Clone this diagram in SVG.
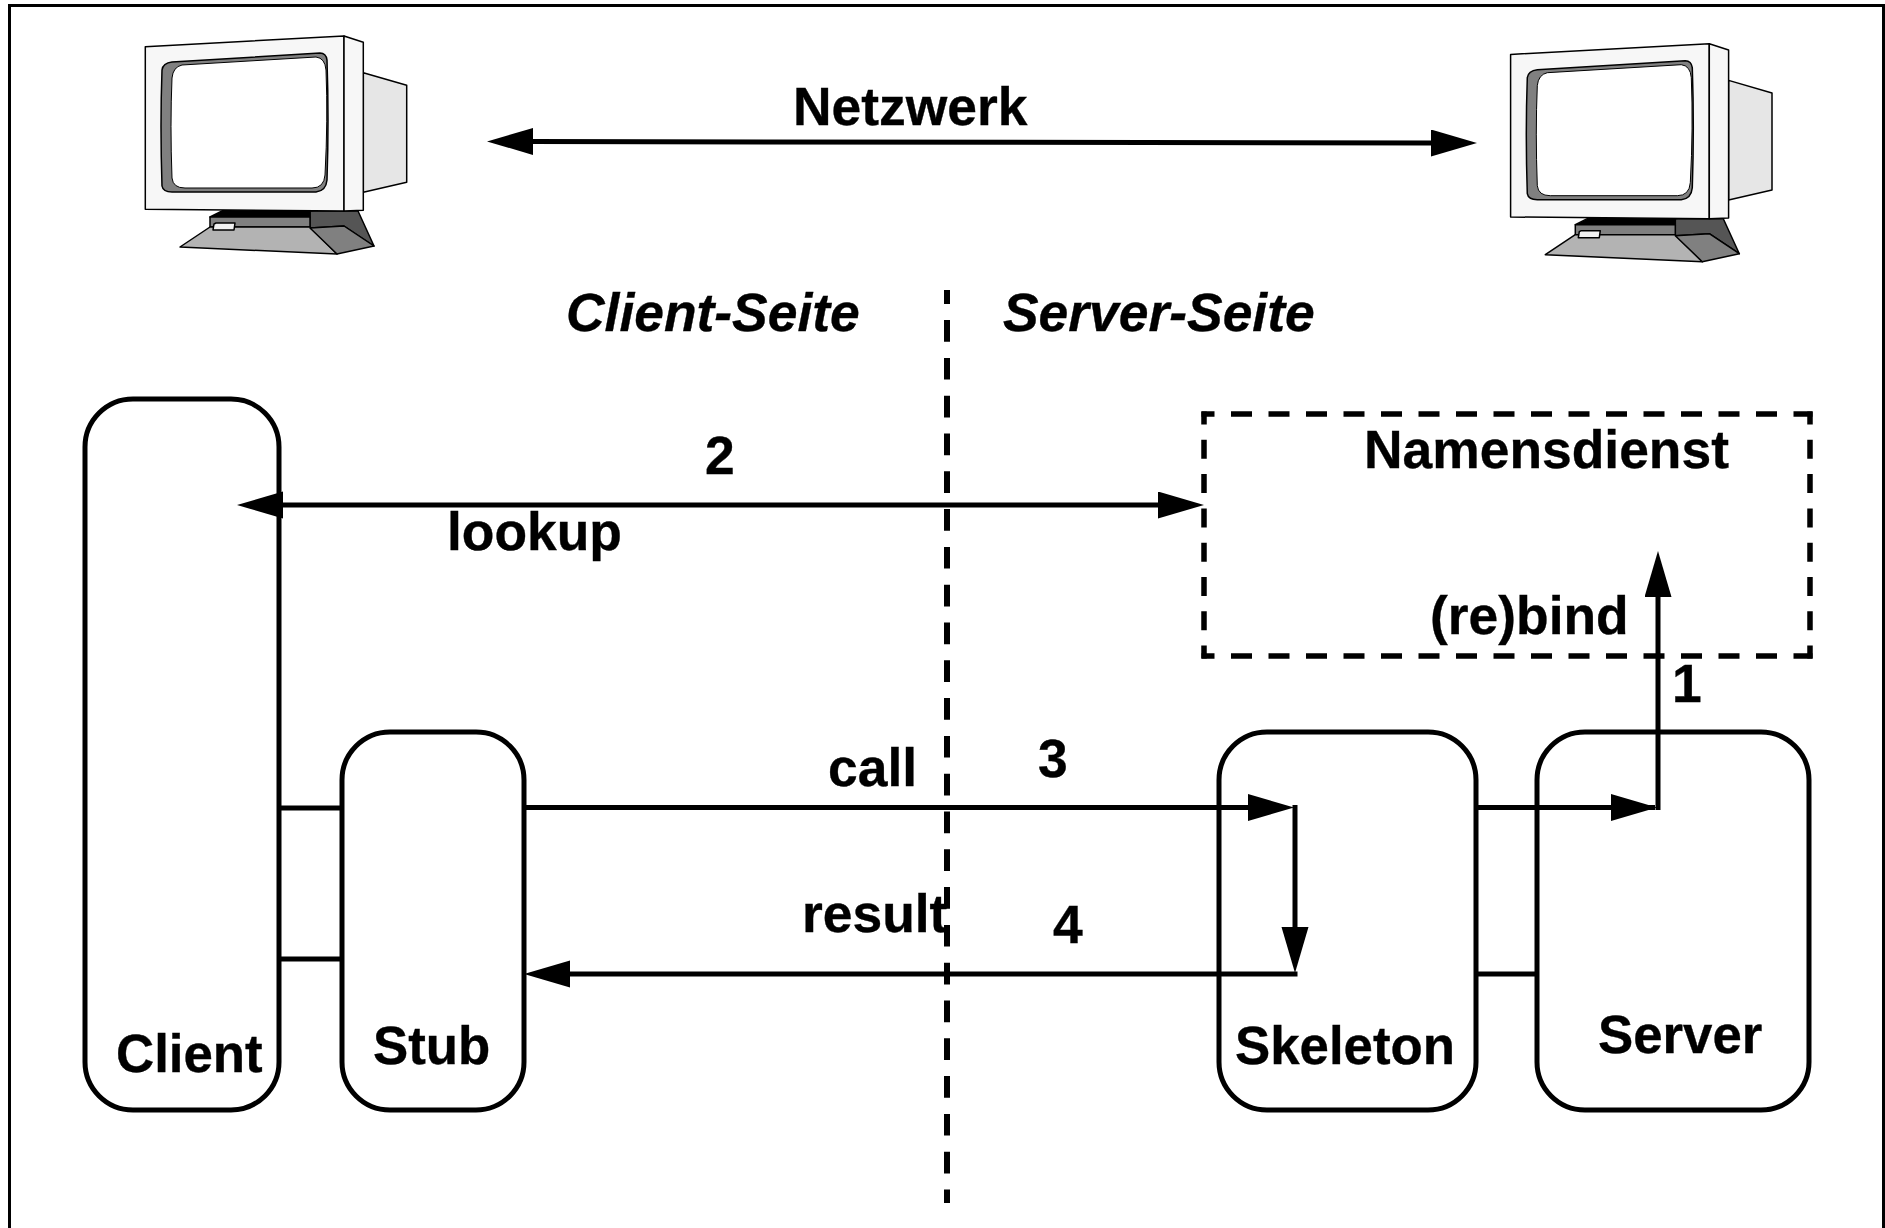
<svg xmlns="http://www.w3.org/2000/svg" width="1885" height="1228" viewBox="0 0 1885 1228">
<style>
text{font-family:"Liberation Sans",Arial,sans-serif;font-weight:bold;fill:#000;stroke:#000;stroke-width:.35;font-size:53.4px}
.it{font-style:italic}
.nm{font-size:52.8px}
.box{fill:none;stroke:#000;stroke-width:5}
.ln{fill:none;stroke:#000;stroke-width:5}
.dash{fill:none;stroke:#000;stroke-width:5.5}
.dh{stroke-dasharray:21 16.5;stroke-dashoffset:8}
.dv{stroke-dasharray:19 15.3;stroke-dashoffset:6}
.dc{stroke-width:6;stroke-dasharray:21.7 16.1;stroke-dashoffset:7.7}
.m{stroke:#000;stroke-width:1.5;stroke-linejoin:round}
</style>
<defs>
<marker id="ah" markerUnits="userSpaceOnUse" markerWidth="47" markerHeight="28" refX="0" refY="13.5" orient="auto-start-reverse"><path d="M0,0L46,13.5L0,27z" fill="#000"/></marker>
<g id="monitor">
<path class="m" fill="#e6e6e6" d="M363.3,72.7L406.7,85.3V182.3L363.3,192.3z"/>
<path class="m" fill="#555" d="M310,211H358L374,246L344,226L310,228z"/>
<path class="m" fill="#000" d="M210,217L226,209H320L310,211V218z"/>
<path class="m" fill="#808080" d="M210,217H310V227H210z"/>
<path class="m" fill="#b3b3b3" d="M210,227H310L337,254L180,247z"/>
<path class="m" fill="#808080" d="M310,228L344,226L374,246L337,254z"/>
<path class="m" fill="#f2f2f2" d="M214,224L216,223L235,223L234,230L213,230z"/>
<path class="m" fill="#f7f7f7" d="M145.3,46.7L344,36V211L145.3,209.3z"/>
<path class="m" fill="#f7f7f7" d="M344,36L363.3,42.3V210.3L344,211z"/>
<path class="m" fill="#808080" d="M172,62L320,53Q326,53 327,60Q329,120 327,180Q326,191 316,192H172Q163,192 162,186Q160,125 162,70Q163,63 172,62z"/>
<path fill="#fff" stroke="#000" stroke-width="1" d="M182,65L316,57Q325,58 326,70Q328,120 325,175Q324,188 312,188H185Q173,188 172,178Q170,125 172,78Q173,67 182,65z"/>
</g>
</defs>
<rect width="1885" height="1228" fill="#fff"/>
<path d="M9.5,1228V5.5H1883.5V1228" fill="none" stroke="#000" stroke-width="3"/>
<g id="computer-client"><use href="#monitor"/></g>
<g id="computer-server"><use href="#monitor" x="1365.3" y="7.7"/></g>
<g id="node-client"><rect class="box" x="85" y="399" width="194" height="711" rx="48"/><text class="nm" x="116" y="1072">Client</text></g>
<g id="node-stub"><rect class="box" x="342" y="732" width="182" height="378" rx="48"/><text class="nm" x="373" y="1064">Stub</text></g>
<g id="node-skeleton"><rect class="box" x="1219" y="732" width="257" height="378" rx="48"/><text class="nm" x="1235" y="1064">Skeleton</text></g>
<g id="node-server"><rect class="box" x="1537" y="732" width="272" height="378" rx="48"/><text class="nm" x="1598" y="1053">Server</text></g>
<g id="node-namensdienst">
<path class="dash dh" d="M1201.5,414H1812.5M1201.5,656H1812.5"/>
<path class="dash dv" d="M1204,411.5V658.5M1810,411.5V658.5"/>
<text x="1364" y="468">Namensdienst</text><text x="1430" y="634">(re)bind</text></g>
<g id="connectors">
<path class="ln" marker-start="url(#ah)" marker-end="url(#ah)" d="M533,141.5L1431,143"/>
<path class="dash dc" d="M947,290V1203"/>
<path class="ln" marker-start="url(#ah)" marker-end="url(#ah)" d="M283,505H1158"/>
<path class="ln" d="M279,808H342M279,959H342M1477,974H1537"/>
<path class="ln" marker-end="url(#ah)" d="M524,807.5H1248"/>
<path class="ln" marker-end="url(#ah)" d="M1295,805V927"/>
<path class="ln" marker-end="url(#ah)" d="M1297.5,974H570"/>
<path class="ln" marker-end="url(#ah)" d="M1477,807.5H1611"/>
<path class="ln" d="M1611,807.5H1655"/>
<path class="ln" marker-end="url(#ah)" d="M1658,810V597"/>
</g>
<g id="labels">
<text x="793" y="125">Netzwerk</text>
<text class="it" x="566" y="331">Client-Seite</text>
<text class="it" x="1003" y="331">Server-Seite</text>
<text x="705" y="474">2</text>
<text x="447" y="550">lookup</text>
<text x="828" y="786">call</text>
<text x="1038" y="777">3</text>
<text x="802" y="932">result</text>
<text x="1053" y="943">4</text>
<text x="1672" y="702">1</text>
</g>
</svg>
